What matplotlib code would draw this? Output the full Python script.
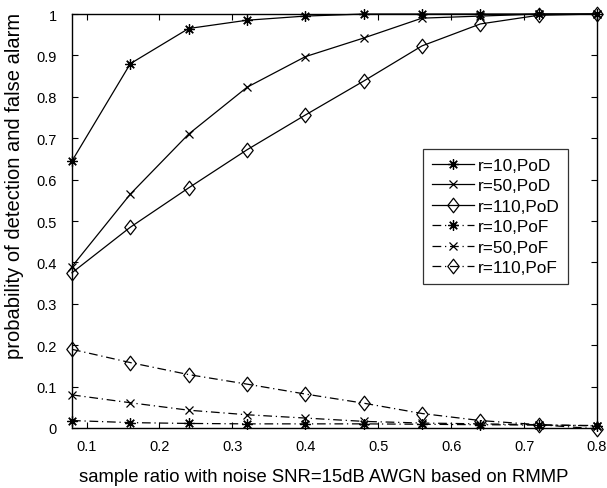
import matplotlib
matplotlib.use("Agg")
import matplotlib.pyplot as plt
from matplotlib.path import Path

x = [0.08, 0.16, 0.24, 0.32, 0.40, 0.48, 0.56, 0.64, 0.72, 0.80]
pod_r10 = [0.645, 0.880, 0.965, 0.985, 0.995, 1.0, 1.0, 1.0, 1.0, 1.0]
pod_r50 = [0.390, 0.565, 0.710, 0.823, 0.897, 0.942, 0.990, 0.995, 1.0, 1.0]
pod_r110 = [0.375, 0.485, 0.580, 0.672, 0.756, 0.838, 0.923, 0.976, 0.997, 1.0]
pof_r10 = [0.018, 0.013, 0.011, 0.010, 0.010, 0.010, 0.009, 0.008, 0.007, 0.006]
pof_r50 = [0.080, 0.061, 0.043, 0.032, 0.024, 0.016, 0.012, 0.010, 0.008, 0.005]
pof_r110 = [0.190, 0.158, 0.129, 0.106, 0.082, 0.060, 0.035, 0.018, 0.008, -0.002]
labels = ["r=10,PoD", "r=50,PoD", "r=110,PoD", "r=10,PoF", "r=50,PoF", "r=110,PoF"]
xticks = [0.1, 0.2, 0.3, 0.4, 0.5, 0.6, 0.7, 0.8]
yticks = [0, 0.1, 0.2, 0.3, 0.4, 0.5, 0.6, 0.7, 0.8, 0.9, 1]

plt.rcParams['font.family'] = ['Liberation Sans', 'DejaVu Sans']

fig = plt.figure(figsize=(6.07, 4.89), dpi=100)
ax = fig.add_axes([0.1186, 0.1227, 0.8649, 0.8466])

star = (8, 2, 0)
diamond = Path([(0, 1), (0.78, 0), (0, -1), (-0.78, 0), (0, 1)],
               [Path.MOVETO, Path.LINETO, Path.LINETO, Path.LINETO, Path.CLOSEPOLY])
dashdot = (0, (7, 3, 1, 3))
series = [
    (pod_r10, '-', star, 7.5),
    (pod_r50, '-', 'x', 6),
    (pod_r110, '-', diamond, 10.5),
    (pof_r10, dashdot, star, 7.5),
    (pof_r50, dashdot, 'x', 6),
    (pof_r110, dashdot, diamond, 10.5),
]
for (y, ls, m, ms), lab in zip(series, labels):
    ax.plot(x, y, linestyle=ls, marker=m, ms=ms, label=lab, color='black',
            lw=0.9, mfc='none', mec='black', mew=0.9, clip_on=False)

ax.set_xlim(0.08, 0.8)
ax.set_ylim(0, 1)
ax.set_xticks(xticks)
ax.set_xticklabels([f"{t:g}" for t in xticks])
ax.set_yticks(yticks)
ax.set_yticklabels([f"{t:g}" for t in yticks])
ax.tick_params(direction='in', top=True, right=True, labelsize=10.5, length=4, width=0.8)
ax.tick_params(axis='x', pad=8)
ax.tick_params(axis='y', pad=11)
for s in ax.spines.values():
    s.set_linewidth(1.0)

ax.set_xlabel("sample ratio with noise SNR=15dB AWGN based on RMMP", fontsize=13.3)
ax.set_ylabel("probability of detection and false alarm", fontsize=14.5)
ax.xaxis.set_label_coords(0.48, -0.097)
ax.xaxis.label.set_va('top')
ax.yaxis.set_label_coords(-0.109, 0.587)
ax.yaxis.label.set_va('center')

leg = ax.legend(loc='upper left', bbox_to_anchor=(0.669, 0.674), fontsize=12.4,
                frameon=True, fancybox=False, edgecolor='black', handlelength=2.45,
                borderpad=0.5, labelspacing=0.32, handletextpad=0.2, borderaxespad=0)
leg.get_frame().set_linewidth(0.9)

fig.savefig("out.png", dpi=100)
